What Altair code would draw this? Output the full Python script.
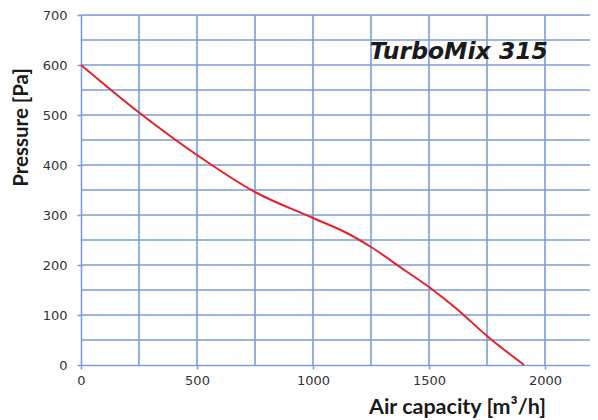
import altair as alt
import pandas as pd

# Data
airflow = [0, 250, 500, 750, 1000, 1150, 1250, 1400, 1500, 1620, 1750, 1910]
pressure = [600, 505, 420, 346, 294, 263, 236, 188, 156, 112, 58, 0]

x_grid = [250, 500, 750, 1000, 1250, 1500, 1750, 2000]
y_grid = [50, 100, 150, 200, 250, 300, 350, 400, 450, 500, 550, 600, 650, 700]
x_ticks = [0, 500, 1000, 1500, 2000]
y_ticks = [0, 100, 200, 300, 400, 500, 600, 700]

label_text = ["TurboMix 315"]
label_x = [1245]
label_y = [612]

curve = pd.DataFrame({"airflow": airflow, "pressure": pressure})
label = pd.DataFrame({"t": label_text, "x": label_x, "y": label_y})
xg = pd.DataFrame({"v": x_grid})
yg = pd.DataFrame({"v": y_grid})

BLUE = "#7b9ed6"

x_scale = alt.Scale(domain=[0, 2194], nice=False, zero=False)
y_scale = alt.Scale(domain=[0, 700], nice=False)

x_axis = alt.Axis(
    values=x_ticks,
    format="d",
    grid=False,
    domainColor=BLUE,
    domainWidth=1.6,
    tickColor=BLUE,
    tickWidth=1.6,
    tickSize=4,
    labelFont="DejaVu Sans",
    labelFontSize=13,
    labelColor="#333333",
    labelPadding=5,
    labelFlush=False,
    title="Air capacity [m³/h]",
    titleFont="Lato",
    titleFontWeight="bold",
    titleFontSize=21.5,
    titleColor="#1a1a1a",
    titleX=376,
    titleY=48,
    titleAlign="center",
    titleBaseline="alphabetic",
)

y_axis = alt.Axis(
    values=y_ticks,
    format="d",
    grid=False,
    domainColor=BLUE,
    domainWidth=1.6,
    tickColor=BLUE,
    tickWidth=1.6,
    tickSize=4,
    labelFont="DejaVu Sans",
    labelFontSize=13,
    labelColor="#333333",
    labelPadding=10,
    labelFlush=False,
    title="Pressure [Pa]",
    titleFont="Lato",
    titleFontWeight="bold",
    titleFontSize=20.5,
    titleColor="#1a1a1a",
    titleX=-60,
    titleY=112,
    titleAlign="center",
    titleBaseline="middle",
)

vgrid = alt.Chart(xg).mark_rule(color=BLUE, strokeWidth=1.6).encode(
    x=alt.X("v:Q", scale=x_scale, axis=x_axis)
)
hgrid = alt.Chart(yg).mark_rule(color=BLUE, strokeWidth=1.6).encode(
    y=alt.Y("v:Q", scale=y_scale, axis=y_axis)
)

line = alt.Chart(curve).mark_line(
    color="#e8202a", strokeWidth=2, interpolate="monotone"
).encode(
    x=alt.X("airflow:Q", scale=x_scale, axis=x_axis),
    y=alt.Y("pressure:Q", scale=y_scale, axis=y_axis),
)

text = alt.Chart(label).mark_text(
    font="DejaVu Sans",
    fontStyle="italic",
    fontWeight="bold",
    fontSize=23.5,
    color="#1a1a1a",
    align="left",
    baseline="alphabetic",
).encode(
    x=alt.X("x:Q", scale=x_scale, axis=x_axis),
    y=alt.Y("y:Q", scale=y_scale, axis=y_axis),
    text="t:N",
)

chart = alt.layer(vgrid, hgrid, line, text).properties(
    width=509,
    height=350,
    autosize=alt.AutoSizeParams(type="none"),
    padding={"left": 73, "top": 7, "right": 0, "bottom": 54},
).configure_view(stroke=None).configure(background="white")

chart.save("out.html", embed_options={"renderer": "svg", "actions": False})
